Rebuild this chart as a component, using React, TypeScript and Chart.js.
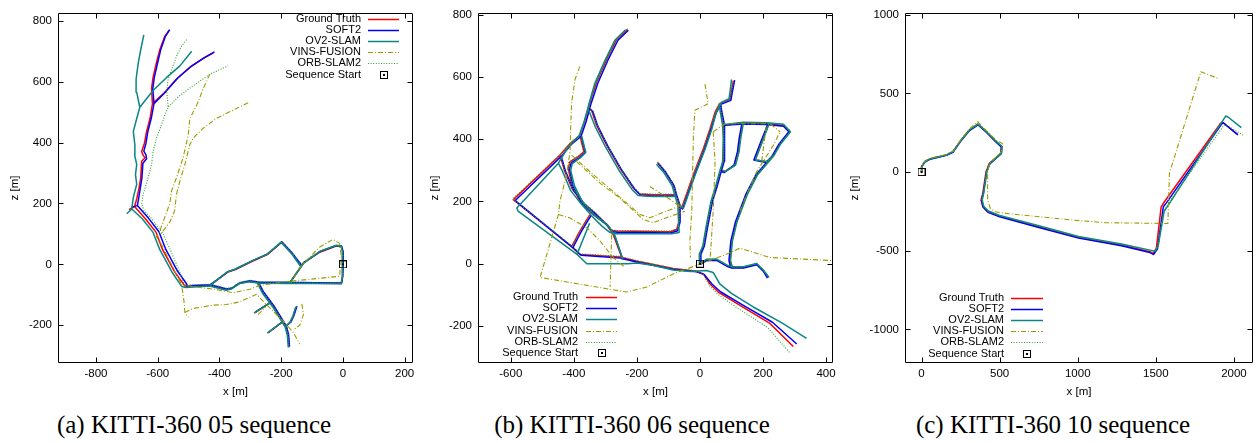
import React, { useEffect, useRef } from 'react';
import { Chart, registerables } from 'chart.js';

Chart.register(...registerables);
Chart.defaults.font.family = '"Liberation Sans", Arial, sans-serif';

type P = [number, number] | null;

const seriesLabels = ['Ground Truth', 'SOFT2', 'OV2-SLAM', 'VINS-FUSION', 'ORB-SLAM2'];
const startLabel = 'Sequence Start';

// ---------------- (a) KITTI-360 05 ----------------
const a_xTicks = [-800, -600, -400, -200, 0, 200];
const a_yTicks = [-200, 0, 200, 400, 600, 800];
const a_start: P[] = [[0, 0]];

const a_gt: P[] = [
  [-172, -60], [-135, -6], [-129, 4], [-75, 40], [-22, 60], [-5, 58], [0, 40], [0, 0], [-2, -40], [-5, -63], [-90, -62], [-172, -61], [-270, -61], [-302, -56], [-334, -62], [-361, -80], [-377, -83], [-431, -69], [-507, -72], [-513, -70], [-545, -25], [-585, 50], [-605, 105], [-640, 150], [-675, 190], [-693, 180], null,
  [-135, -6], [-165, 35], [-199, 72], [-245, 32], [-290, 12], [-350, -18], [-372, -25], [-431, -69], null,
  [-675, 190], [-668, 215], [-660, 253], [-655, 285], [-652, 339], [-641, 350], [-647, 358], [-652, 371], [-643, 398], [-636, 436], [-625, 479], [-617, 528], [-620, 577], [-615, 614], [-604, 663], [-593, 706], [-577, 749], [-563, 769], null,
  [-617, 528], [-582, 560], [-539, 609], [-496, 647], [-453, 676], [-420, 695], null,
  [-275, -61], [-259, -93], [-226, -138], [-199, -182], [-185, -205], [-178, -233], [-175, -271], null,
  [-286, -159], [-237, -127], null,
  [-243, -225], [-197, -190], null,
  [-151, -139], [-160, -168], [-170, -190], [-184, -203],
];
const a_soft2: P[] = [
  [-170, -58], [-133, -4], [-127, 6], [-74, 42], [-21, 62], [-4, 60], [1, 40], [1, 0], [-1, -40], [-4, -61], [-90, -60], [-170, -59], [-270, -59], [-301, -54], [-333, -60], [-360, -78], [-376, -81], [-430, -67], [-503, -70], [-505, -66], [-536, -22], [-575, 52], [-596, 107], [-630, 152], [-666, 193], [-685, 188], null,
  [-133, -4], [-164, 37], [-198, 74], [-244, 34], [-289, 14], [-349, -16], [-371, -23], [-430, -67], null,
  [-666, 193], [-662, 215], [-656, 253], [-651, 285], [-648, 332], [-636, 347], [-638, 360], [-645, 372], [-638, 398], [-632, 436], [-621, 479], [-612, 528], [-616, 577], [-611, 614], [-600, 663], [-590, 706], [-575, 749], [-561, 771], null,
  [-612, 528], [-578, 563], [-535, 612], [-492, 650], [-449, 679], [-416, 698], null,
  [-273, -59], [-257, -91], [-224, -136], [-197, -180], [-183, -203], [-176, -231], [-173, -270], null,
  [-284, -157], [-235, -125], null,
  [-241, -223], [-195, -188], null,
  [-149, -137], [-158, -166], [-168, -188], [-182, -201],
];
const a_ov2: P[] = [
  [-173, -62], [-136, -8], [-128, 3], [-76, 42], [-23, 62], [-6, 60], [-1, 40], [-1, 0], [-3, -40], [-6, -64], [-90, -63], [-173, -63], [-270, -62], [-303, -57], [-335, -63], [-362, -81], [-378, -85], [-432, -71], [-509, -76], [-522, -73], [-554, -25], [-594, 50], [-615, 105], [-650, 150], [-684, 182], [-700, 166], null,
  [-136, -8], [-166, 35], [-200, 73], [-246, 33], [-291, 13], [-351, -17], [-373, -24], [-432, -71], null,
  [-684, 182], [-679, 220], [-668, 263], [-672, 295], [-668, 328], [-675, 360], [-674, 393], [-679, 436], [-668, 479], [-658, 516], [-668, 565], [-670, 608], [-663, 662], [-655, 705], [-645, 754], null,
  [-658, 516], [-615, 571], [-571, 614], [-528, 652], [-490, 700], null,
  [-277, -62], [-261, -94], [-228, -139], [-201, -183], [-187, -206], [-180, -234], [-177, -273], null,
  [-288, -160], [-239, -128], null,
  [-245, -226], [-199, -191], null,
  [-153, -140], [-162, -169], [-172, -191], [-186, -204],
];
const a_vins: P[] = [
  [-167, -55], [-11, -39], [-5, 20], [-11, 69], [-32, 82], [-75, 57], [-129, 2], [-167, -55], [-270, -69], [-302, -82], [-356, -93], [-415, -82], [-470, -75], [-523, -66], null,
  [-431, 625], [-453, 577], [-469, 533], [-496, 479], [-501, 425], [-518, 350], [-539, 285], [-555, 242], [-561, 199], [-577, 155], [-593, 110], [-604, 91], [-585, 60], [-571, 31], [-550, -12], [-523, -66], [-515, -120], [-512, -158], [-501, -174], null,
  [-307, 531], [-367, 501], [-410, 479], [-453, 447], [-485, 415], [-496, 393], [-512, 328], [-528, 274], [-539, 231], [-545, 177], [-560, 140], [-590, 100], null,
  [-512, -158], [-485, -145], [-420, -134], [-377, -132], [-334, -123], [-280, -98], [-250, -130], [-215, -165], [-185, -195], [-160, -225], [-140, -262], null,
  [-133, -130], [-128, -165], [-140, -200], [-160, -215], null,
  [-275, -165], [-250, -140],
];
const a_orb: P[] = [
  [-171, -58], [-134, -4], [-128, 6], [-74, 43], [-21, 63], [-4, 60], [0, 40], [0, 0], [-1, -40], [-4, -62], [-90, -61], [-171, -60], [-269, -58], [-300, -52], [-332, -58], [-360, -76], [-376, -79], [-430, -65], [-505, -68], [-515, -64], [-530, -22], [-560, 50], [-585, 105], [-620, 150], [-645, 178], [-652, 199], null,
  [-134, -4], [-164, 37], [-198, 74], [-244, 34], [-289, 14], [-349, -16], [-371, -23], [-430, -65], null,
  [-652, 199], [-647, 231], [-631, 285], [-620, 328], [-615, 371], [-604, 415], [-588, 458], [-577, 490], [-566, 517], [-571, 571], [-566, 609], [-539, 684], [-523, 717], [-504, 741], null,
  [-566, 517], [-534, 550], [-485, 587], [-431, 625], [-372, 652], null,
  [-274, -60], [-258, -92], [-225, -137], [-198, -181], [-184, -204], [-177, -232], [-174, -272], null,
  [-285, -158], [-236, -126], null,
  [-242, -224], [-196, -189], null,
  [-150, -138], [-159, -167], [-169, -189], [-183, -202],
];

// ---------------- (b) KITTI-360 06 ----------------
const b_xTicks = [-600, -400, -200, 0, 200, 400];
const b_yTicks = [-200, 0, 200, 400, 600, 800];
const b_start: P[] = [[0, 0]];

const b_gt: P[] = [
  [-230, 753], [-264, 721], [-296, 657], [-328, 583], [-349, 519], [-354, 500], [-344, 493], [-328, 445], [-296, 381], [-254, 307], [-211, 243], [-192, 224], [-148, 222], [-76, 222], null,
  [-135, 325], [-111, 296], [-85, 254], [-76, 222], [-66, 190], [-66, 137], [-74, 110], [-95, 103], [-264, 105], [-280, 107], [-300, 130], [-330, 160], [-370, 195], [-405, 240], [-430, 300], [-444, 349], null,
  [-354, 500], [-365, 460], [-381, 413], [-412, 386], [-444, 349], [-592, 206], [-407, 55], [-381, 30], [-254, 22], [-248, 20], null,
  [-381, 413], [-368, 360], [-386, 344], [-412, 328], [-418, 307], [-407, 254], [-381, 201], [-338, 158], [-296, 126], [-275, 94], [-248, 20], null,
  [-407, 55], [-381, 105], [-359, 142], [-349, 158], null,
  [-248, 20], [-190, 6], [-85, -15], [-11, -24], [11, -33], [32, -65], [58, -91], [127, -134], [222, -192], [296, -266], null,
  [-66, 190], [-58, 179], [-21, 286], [11, 370], [32, 434], [48, 487], [63, 515], [95, 528], [100, 556], [106, 588], null,
  [0, 0], [0, 31], [11, 57], [21, 116], [37, 201], [53, 254], [63, 291], [74, 329], [76, 400], [74, 445], [66, 490], [63, 515], null,
  [74, 445], [138, 452], [212, 450], [265, 445], [285, 424], [254, 385], [233, 348], [180, 285], [148, 222], [116, 136], [101, 73], [95, 10], [101, -12], null,
  [217, 448], [196, 392], [174, 333], [212, 328], [233, 348], null,
  [135, 448], [127, 400], [122, 360], [111, 317], [79, 296], [70, 300], null,
  [0, 0], [21, 12], [53, 13], [85, -6], [101, -12], [138, -12], [180, -1], [201, -22], [217, -44],
];
const b_soft2: P[] = [
  [-227, 750], [-260, 718], [-292, 654], [-324, 580], [-345, 516], [-350, 498], [-340, 490], [-324, 442], [-292, 378], [-250, 304], [-207, 240], [-188, 220], [-146, 218], [-73, 218], null,
  [-132, 322], [-108, 293], [-82, 251], [-73, 218], [-63, 187], [-63, 134], [-71, 106], [-92, 99], [-262, 101], [-277, 103], [-297, 126], [-327, 156], [-366, 191], [-401, 236], [-426, 296], [-440, 345], null,
  [-350, 497], [-361, 457], [-377, 410], [-408, 383], [-440, 345], [-586, 203], [-403, 52], [-377, 27], [-252, 18], [-245, 16], null,
  [-377, 410], [-364, 357], [-382, 341], [-408, 325], [-414, 304], [-403, 251], [-377, 198], [-334, 155], [-292, 123], [-271, 91], [-245, 16], null,
  [-403, 52], [-377, 102], [-355, 139], [-345, 155], null,
  [-245, 16], [-190, 3], [-85, -18], [-11, -26], [14, -35], [38, -65], [65, -90], [135, -132], [230, -188], [307, -258], null,
  [-63, 187], [-55, 176], [-18, 283], [14, 367], [35, 431], [51, 484], [66, 512], [98, 525], [103, 553], [110, 590], null,
  [2, 0], [3, 31], [14, 57], [24, 116], [40, 201], [56, 254], [66, 291], [77, 329], [79, 400], [77, 445], [69, 490], [66, 512], null,
  [77, 445], [138, 449], [212, 447], [265, 442], [282, 424], [251, 385], [230, 348], [177, 285], [145, 222], [113, 136], [98, 73], [92, 10], [98, -14], null,
  [214, 445], [193, 392], [171, 333], [209, 325], [230, 346], null,
  [132, 445], [124, 400], [119, 360], [108, 317], [76, 293], [68, 297], null,
  [2, -2], [21, 10], [53, 11], [85, -8], [101, -14], [138, -14], [180, -3], [201, -24], [214, -46],
];
const b_ov2: P[] = [
  [-236, 752], [-270, 718], [-302, 652], [-334, 578], [-352, 514], [-356, 498], [-350, 486], [-332, 440], [-300, 376], [-258, 302], [-215, 238], [-196, 219], [-150, 216], [-78, 216], null,
  [-138, 320], [-114, 292], [-88, 250], [-78, 216], [-70, 185], [-68, 137], [-66, 100], [-90, 96], [-264, 96], [-285, 100], [-310, 120], [-340, 150], [-375, 190], [-410, 235], [-435, 295], [-449, 323], null,
  [-356, 498], [-368, 455], [-384, 410], [-418, 375], [-449, 323], [-581, 179], [-576, 168], [-391, 31], [-359, 0], [-230, 0], [-200, 2], null,
  [-375, 410], [-362, 358], [-380, 340], [-405, 322], [-410, 300], [-398, 250], [-372, 198], [-330, 152], [-288, 118], [-268, 86], [-245, 12], null,
  [-390, 30], [-370, 80], [-350, 130], null,
  [-200, 2], [-150, -5], [-85, -20], [-30, -25], [20, -22], [42, -28], [63, -65], [100, -95], [169, -139], [260, -190], [338, -240], null,
  [-62, 185], [-52, 179], [-15, 286], [17, 370], [38, 434], [52, 487], [68, 518], [92, 530], [96, 556], [100, 592], null,
  [-2, 0], [-2, 31], [9, 57], [19, 116], [35, 201], [51, 254], [61, 291], [72, 329], [74, 400], [72, 445], [64, 490], [61, 515], null,
  [72, 447], [138, 455], [212, 453], [265, 448], [287, 424], [256, 385], [235, 348], [182, 285], [150, 222], [118, 136], [103, 73], [97, 10], [103, -12], null,
  [219, 448], [198, 392], [176, 333], [214, 328], [235, 348], null,
  [137, 448], [129, 400], [124, 360], [113, 317], [81, 296], [72, 300], null,
  [0, 0], [21, 14], [53, 15], [85, -4], [103, -10], [138, -10], [180, 1], [201, -20], [219, -44],
];
const b_vins: P[] = [
  [-381, 634], [-396, 593], [-407, 519], [-410, 440], [-412, 360], [-423, 286], [-444, 201], [-449, 158], [-507, -44], [-233, -91], [-169, -75], [-85, -33], [0, -1], [85, 31], [127, 50], [222, 20], [423, 10], null,
  [-280, 94], [-285, -75], null,
  [-407, 349], [-338, 286], [-275, 232], [-190, 158], [-159, 148], [-53, 190], null,
  [-391, 328], [-317, 259], [-254, 211], [-180, 142], [-148, 132], [-48, 169], null,
  [-159, 248], [-85, 200], [-60, 180], null,
  [-449, 158], [-412, 147], [-359, 116], [-317, 73], [-275, 20], [-240, -10], null,
  [16, 577], [26, 514], [-16, 493], [-21, 402], [-26, 169], [-32, 73], [-30, 20], null,
  [42, 424], [80, 450], [222, 450], [254, 424], null,
  [42, 424], [48, 328], [42, 169], [32, 10], null,
  [127, 169], [148, 222], [180, 296], [233, 381], [254, 424], null,
  [196, 330], [210, 440],
];
const b_orb: P[] = [
  [-229, 755], [-263, 723], [-295, 659], [-327, 585], [-348, 521], [-353, 502], [-343, 495], [-327, 447], [-295, 383], [-253, 309], [-210, 245], [-191, 226], [-147, 224], [-75, 224], null,
  [-134, 327], [-110, 298], [-84, 256], [-75, 224], [-65, 192], [-65, 139], [-73, 112], [-94, 105], [-263, 107], [-279, 109], [-299, 132], [-329, 162], [-369, 197], [-404, 242], [-429, 302], [-443, 351], null,
  [-353, 502], [-364, 462], [-380, 415], [-411, 388], [-443, 351], [-594, 208], [-406, 57], [-380, 32], [-253, 24], [-247, 22], null,
  [-380, 415], [-367, 362], [-385, 346], [-411, 330], [-417, 309], [-406, 256], [-380, 203], [-337, 160], [-295, 128], [-274, 96], [-247, 22], null,
  [-406, 57], [-380, 107], [-358, 144], [-348, 160], null,
  [-247, 22], [-190, 8], [-85, -15], [-11, -23], [11, -35], [30, -70], [55, -97], [120, -143], [215, -205], [285, -286], null,
  [-65, 192], [-57, 181], [-20, 288], [12, 372], [33, 436], [49, 489], [64, 517], [96, 530], [101, 558], [108, 590], null,
  [1, 2], [1, 33], [12, 59], [22, 118], [38, 203], [54, 256], [64, 293], [75, 331], [77, 402], [75, 447], [67, 492], [64, 517], null,
  [75, 447], [138, 454], [212, 452], [265, 447], [288, 426], [255, 387], [234, 350], [181, 287], [149, 224], [117, 138], [102, 75], [96, 12], [102, -10], null,
  [218, 450], [197, 394], [175, 335], [213, 330], [234, 350], null,
  [136, 450], [128, 402], [123, 362], [112, 319], [80, 298], [71, 302], null,
  [0, 2], [21, 14], [53, 15], [85, -4], [102, -10], [138, -10], [180, 1], [201, -20], [218, -42],
];

// ---------------- (c) KITTI-360 10 ----------------
const c_xTicks = [0, 500, 1000, 1500, 2000];
const c_yTicks = [-1000, -500, 0, 500, 1000];
const c_start: P[] = [[0, 0]];

const c_gt: P[] = [
  [0, 0], [0, 34], [21, 66], [53, 83], [116, 98], [159, 108], [201, 129], [254, 204], [307, 267], [360, 305], [413, 257], [476, 193], [512, 161], [508, 119], [434, 55], [413, 2], [392, -136], [381, -178], [392, -221], [423, -252], [497, -280], [751, -348], [1005, -416], [1280, -464], [1460, -507], [1481, -518], [1503, -486], [1534, -221], [1555, -189], [1915, 310], [1926, 318], [2021, 240],
];
const c_soft2: P[] = [
  [0, 0], [0, 33], [21, 64], [53, 81], [116, 96], [159, 106], [201, 126], [254, 201], [307, 264], [362, 300], [415, 253], [478, 190], [514, 157], [510, 116], [437, 52], [416, -2], [395, -138], [384, -181], [395, -224], [426, -256], [500, -284], [751, -352], [1005, -420], [1280, -468], [1462, -512], [1485, -524], [1510, -490], [1548, -221], [1570, -193], [1922, 306], [1932, 312], [2026, 236],
];
const c_ov2: P[] = [
  [0, 0], [2, 35], [23, 67], [55, 84], [118, 99], [161, 109], [203, 131], [256, 206], [309, 269], [362, 303], [416, 256], [480, 193], [516, 162], [512, 119], [438, 56], [418, 3], [398, -134], [388, -176], [398, -217], [428, -248], [500, -276], [751, -342], [1005, -410], [1280, -458], [1470, -498], [1495, -504], [1515, -470], [1553, -250], [1587, -199], [1947, 356], [1962, 350], [2047, 282],
];
const c_vins: P[] = [
  [0, 0], [0, 36], [21, 70], [53, 87], [116, 102], [159, 112], [201, 133], [254, 210], [307, 275], [360, 320], [413, 265], [480, 200], [518, 182], [512, 130], [440, 60], [423, 13], [423, -178], [440, -230], [470, -252], [540, -263], [963, -305], [1175, -322], [1577, -327], [1587, -8], [1788, 638], [1905, 592],
];
const c_orb: P[] = [
  [0, 0], [1, 36], [22, 68], [54, 85], [117, 100], [160, 110], [202, 131], [255, 206], [308, 270], [360, 309], [414, 260], [478, 196], [514, 164], [510, 122], [436, 58], [415, 5], [395, -133], [385, -175], [396, -218], [426, -250], [500, -277], [751, -344], [1005, -412], [1280, -460], [1468, -500], [1492, -506], [1512, -470], [1550, -250], [1587, -190], [1937, 299], [1955, 296], [2068, 229],
];

// ---------------- styles & layout ----------------
const lineStyles = [
  { color: '#ff0000', width: 1.5, dash: [] as number[] },
  { color: '#0000ff', width: 1.5, dash: [] as number[] },
  { color: '#0b8585', width: 1.5, dash: [] as number[] },
  { color: '#9c9c00', width: 1.1, dash: [5, 2, 1, 2] },
  { color: '#2f9f2f', width: 1.1, dash: [1, 1.6] },
];

type Panel = {
  series: P[][];
  start: P[];
  xMin: number; xMax: number; yMin: number; yMax: number;
  xTicks: number[]; yTicks: number[];
  left: number; width: number; height: number;
  padTop: number; padRight: number; yAxisW: number; xAxisH: number;
  legTextRight: number; legX1: number; legX2: number; legY0: number;
  caption: string; captionCenter: number;
};

const panels: Panel[] = [
  {
    series: [a_gt, a_soft2, a_ov2, a_vins, a_orb], start: a_start,
    xMin: -923, xMax: 227, yMin: -324, yMax: 826, xTicks: a_xTicks, yTicks: a_yTicks,
    left: 0, width: 420, height: 400, padTop: 8, padRight: 7, yAxisW: 58, xAxisH: 37,
    legTextRight: 361, legX1: 368, legX2: 399, legY0: 18.5,
    caption: '(a) KITTI-360 05 sequence', captionCenter: 194,
  },
  {
    series: [b_gt, b_soft2, b_ov2, b_vins, b_orb], start: b_start,
    xMin: -704, xMax: 422, yMin: -319, yMax: 806, xTicks: b_xTicks, yTicks: b_yTicks,
    left: 420, width: 420, height: 400, padTop: 10, padRight: 7, yAxisW: 58, xAxisH: 37,
    legTextRight: 158, legX1: 166, legX2: 197, legY0: 297,
    caption: '(b) KITTI-360 06 sequence', captionCenter: 632,
  },
  {
    series: [c_gt, c_soft2, c_ov2, c_vins, c_orb], start: c_start,
    xMin: -106, xMax: 2122, yMin: -1214, yMax: 1011, xTicks: c_xTicks, yTicks: c_yTicks,
    left: 840, width: 418, height: 400, padTop: 13, padRight: 2, yAxisW: 65, xAxisH: 37,
    legTextRight: 164, legX1: 171, legX2: 203, legY0: 297.5,
    caption: '(c) KITTI-360 10 sequence', captionCenter: 1053,
  },
];

function toXY(arr: P[]) {
  return arr.map((p) => (p ? { x: p[0], y: p[1] } : { x: null as any, y: null as any }));
}

function makeMarker(): HTMLCanvasElement {
  const c = document.createElement('canvas');
  c.width = 8;
  c.height = 8;
  const g = c.getContext('2d')!;
  g.strokeStyle = '#000';
  g.lineWidth = 1;
  g.strokeRect(0.5, 0.5, 7, 7);
  g.fillStyle = '#000';
  g.fillRect(3, 3, 2, 2);
  return c;
}

const framePlugin = {
  id: 'gpFrame',
  afterDatasetsDraw(chart: any) {
    const { ctx, chartArea: a } = chart;
    const xs = chart.scales.x;
    const ys = chart.scales.y;
    const L = Math.round(a.left) + 0.5, R = Math.round(a.right) - 0.5;
    const T = Math.round(a.top) + 0.5, B = Math.round(a.bottom) - 0.5;
    ctx.save();
    ctx.strokeStyle = '#000';
    ctx.lineWidth = 1;
    ctx.setLineDash([]);
    ctx.beginPath();
    ctx.rect(L, T, R - L, B - T);
    const tl = 5;
    xs.ticks.forEach((t: any) => {
      const px = Math.round(xs.getPixelForValue(t.value)) + 0.5;
      ctx.moveTo(px, B); ctx.lineTo(px, B - tl);
      ctx.moveTo(px, T); ctx.lineTo(px, T + tl);
    });
    ys.ticks.forEach((t: any) => {
      const py = Math.round(ys.getPixelForValue(t.value)) + 0.5;
      ctx.moveTo(L, py); ctx.lineTo(L + tl, py);
      ctx.moveTo(R, py); ctx.lineTo(R - tl, py);
    });
    ctx.stroke();
    ctx.restore();
  },
};

const legendPlugin = {
  id: 'gpLegend',
  afterDraw(chart: any, _args: any, opts: any) {
    const { ctx } = chart;
    ctx.save();
    ctx.font = '11px "Liberation Sans", Arial, sans-serif';
    ctx.textAlign = 'right';
    ctx.textBaseline = 'middle';
    ctx.fillStyle = '#000';
    chart.data.datasets.forEach((ds: any, i: number) => {
      const y = opts.y0 + i * 11.2;
      ctx.fillText(ds.label, opts.textRight, y);
      if (ds.showLine) {
        ctx.strokeStyle = ds.borderColor;
        ctx.lineWidth = ds.borderWidth;
        ctx.setLineDash(ds.borderDash || []);
        ctx.beginPath();
        ctx.moveTo(opts.x1, Math.round(y) + 0.5);
        ctx.lineTo(opts.x2, Math.round(y) + 0.5);
        ctx.stroke();
      } else {
        const m = opts.marker as HTMLCanvasElement;
        ctx.drawImage(m, Math.round((opts.x1 + opts.x2) / 2 - m.width / 2), Math.round(y - m.height / 2));
      }
    });
    ctx.restore();
  },
};

function TrajChart({ panel }: { panel: Panel }) {
  const ref = useRef<HTMLCanvasElement>(null);
  useEffect(() => {
    if (!ref.current) return;
    const marker = makeMarker();
    const datasets: any[] = panel.series.map((arr, i) => ({
      label: seriesLabels[i],
      data: toXY(arr),
      showLine: true,
      borderColor: lineStyles[i].color,
      backgroundColor: lineStyles[i].color,
      borderWidth: lineStyles[i].width,
      borderDash: lineStyles[i].dash,
      borderJoinStyle: 'round',
      pointRadius: 0,
      pointHoverRadius: 0,
      fill: false,
      tension: 0,
      spanGaps: false,
      order: 5 - i,
    }));
    datasets.push({
      label: startLabel,
      data: toXY(panel.start),
      showLine: false,
      pointStyle: marker,
      pointRadius: 4,
      order: 0,
    });
    const axisFont = { size: 11.5, family: '"Liberation Sans", Arial, sans-serif' };
    const chart = new Chart(ref.current, {
      type: 'scatter',
      data: { datasets },
      options: {
        animation: false,
        responsive: false,
        events: [],
        layout: { padding: { top: panel.padTop, right: panel.padRight, left: 0, bottom: 0 } },
        plugins: {
          legend: { display: false },
          tooltip: { enabled: false },
          gpLegend: {
            textRight: panel.legTextRight, x1: panel.legX1, x2: panel.legX2, y0: panel.legY0, marker,
          },
        } as any,
        scales: {
          x: {
            type: 'linear',
            min: panel.xMin,
            max: panel.xMax,
            grid: { display: false, drawTicks: false },
            border: { display: false },
            afterBuildTicks: (s: any) => { s.ticks = panel.xTicks.map((v) => ({ value: v })); },
            afterFit: (s: any) => { s.height = panel.xAxisH; },
            ticks: { color: '#000', font: axisFont, padding: 4, maxRotation: 0, autoSkip: false, callback: (v: any) => String(v) },
            title: { display: true, text: 'x [m]', color: '#000', font: axisFont, padding: { top: 0, bottom: 1 } },
          },
          y: {
            type: 'linear',
            min: panel.yMin,
            max: panel.yMax,
            grid: { display: false, drawTicks: false },
            border: { display: false },
            afterBuildTicks: (s: any) => { s.ticks = panel.yTicks.map((v) => ({ value: v })); },
            afterFit: (s: any) => { s.width = panel.yAxisW; },
            ticks: { color: '#000', font: axisFont, padding: 6, autoSkip: false, callback: (v: any) => String(v) },
            title: { display: true, text: 'z [m]', color: '#000', font: axisFont, padding: { top: 8, bottom: 0 } },
          },
        },
      },
      plugins: [framePlugin, legendPlugin],
    } as any);
    return () => chart.destroy();
  }, [panel]);
  return (
    <canvas
      ref={ref}
      width={panel.width}
      height={panel.height}
      style={{ position: 'absolute', left: panel.left, top: 0, width: panel.width, height: panel.height }}
    />
  );
}

export default function App() {
  return (
    <div style={{ position: 'absolute', left: 0, top: 0, width: 1258, height: 443, background: '#fff', overflow: 'hidden' }}>
      {panels.map((p, i) => (
        <TrajChart key={i} panel={p} />
      ))}
      {panels.map((p, i) => (
        <div
          key={'c' + i}
          style={{
            position: 'absolute', left: p.captionCenter - 200, width: 400, top: 411, textAlign: 'center',
            fontFamily: '"Liberation Serif", "Times New Roman", serif', fontSize: 25, lineHeight: '27px', color: '#000',
          }}
        >
          {p.caption}
        </div>
      ))}
    </div>
  );
}
